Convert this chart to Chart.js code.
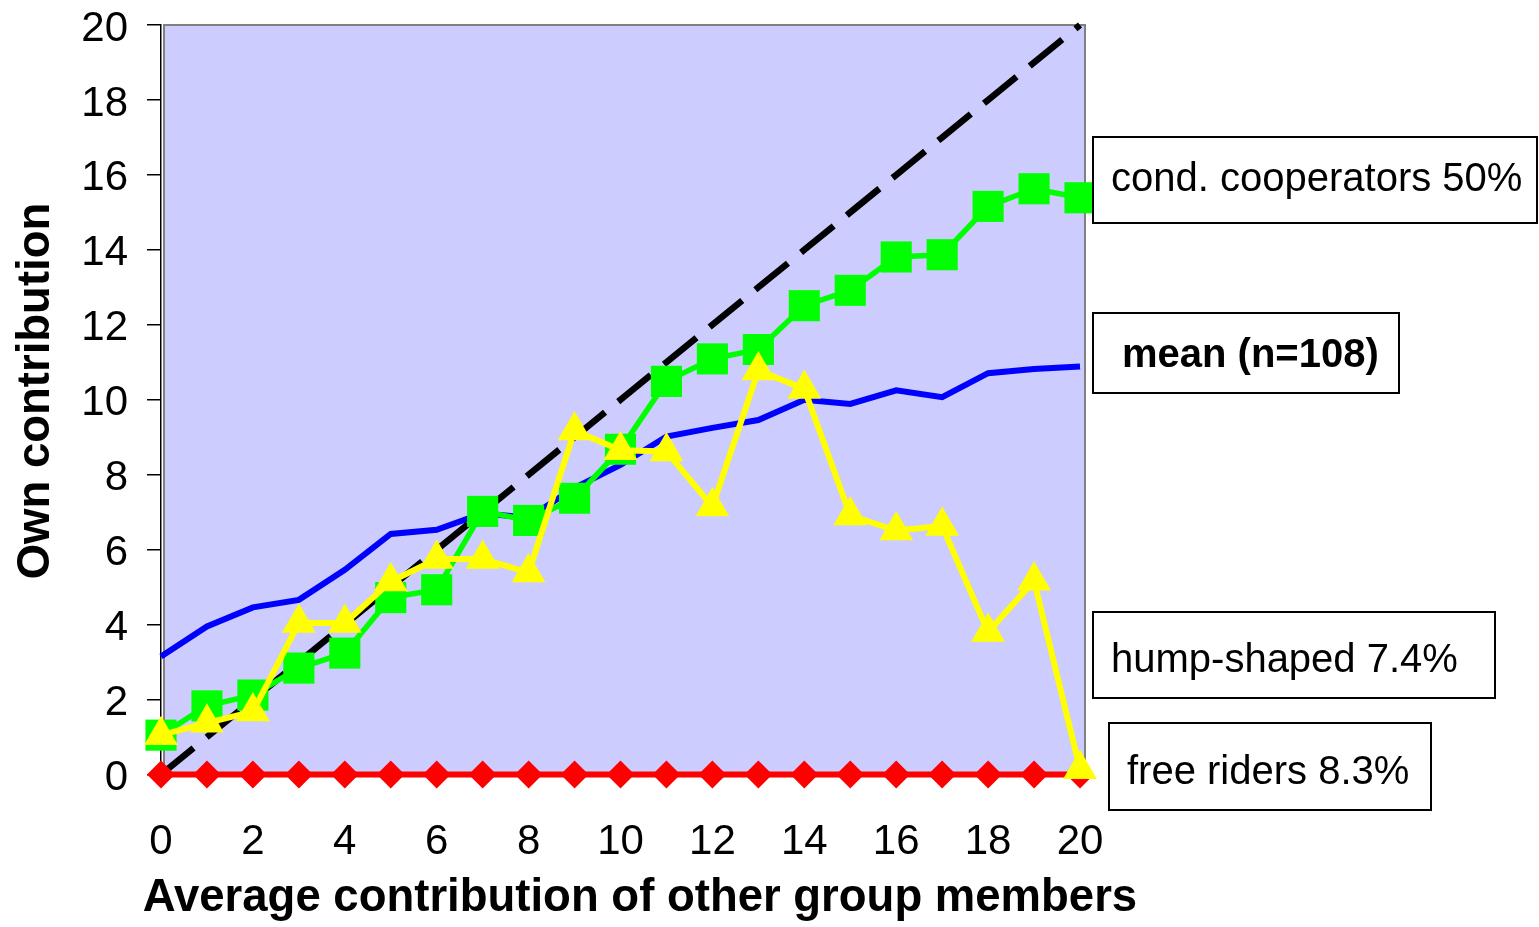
<!DOCTYPE html>
<html>
<head>
<meta charset="utf-8">
<title>Own contribution vs. others</title>
<script src="https://cdn.jsdelivr.net/npm/chart.js@4.4.1/dist/chart.umd.min.js"></script>
<style>
  html, body { margin: 0; padding: 0; background: #fff; }
  #wrap { width: 1539px; height: 927px; }
</style>
</head>
<body>
<div id="wrap"><canvas id="chart" width="1539" height="927"></canvas></div>
<script>
// ============================
// DATA
// ============================
const others = [0, 1, 2, 3, 4, 5, 6, 7, 8, 9, 10, 11, 12, 13, 14, 15, 16, 17, 18, 19, 20];
const meanAll = [3.15, 3.95, 4.46, 4.66, 5.46, 6.42, 6.53, 6.97, 6.85, 7.65, 8.26,
                 9.02, 9.25, 9.46, 10.0, 9.89, 10.25, 10.07, 10.71, 10.82, 10.89];
const condCoop = [1.05, 1.83, 2.12, 2.84, 3.24, 4.72, 4.93, 7.02, 6.78, 7.37, 8.68,
                  10.49, 11.09, 11.34, 12.51, 12.92, 13.81, 13.87, 15.16, 15.63, 15.39];
const humpShaped = [1.05, 1.38, 1.68, 4.04, 4.04, 5.15, 5.75, 5.75, 5.39, 9.18, 8.65,
                    8.62, 7.15, 10.78, 10.29, 6.91, 6.51, 6.63, 3.80, 5.17, 0.14];
const freeRiders = [0, 0, 0, 0, 0, 0, 0, 0, 0, 0, 0, 0, 0, 0, 0, 0, 0, 0, 0, 0, 0];
const diagonal = [0, 1, 2, 3, 4, 5, 6, 7, 8, 9, 10, 11, 12, 13, 14, 15, 16, 17, 18, 19, 20];
const typeLabels = ["cond. cooperators 50%", "mean (n=108)", "hump-shaped 7.4%", "free riders 8.3%"];
const xTitle = "Average contribution of other group members";
const yTitle = "Own contribution";

const pts = arr => arr.map((v, i) => ({ x: others[i], y: v }));
const FONT = "'Liberation Sans', Arial, sans-serif";

// ============================
// PLOT BACKGROUND
// ============================
const plotBg = {
  id: "plotBg",
  beforeDatasetsDraw(chart) {
    const { ctx, chartArea: a } = chart;
    ctx.save();
    ctx.fillStyle = "#CCCCFF";
    ctx.fillRect(a.left + 3, a.top, a.right - a.left + 2, a.bottom - a.top);
    ctx.strokeStyle = "#808080";
    ctx.lineWidth = 2;
    ctx.beginPath();
    ctx.moveTo(a.left + 3, a.bottom);
    ctx.lineTo(a.left + 3, a.top);
    ctx.lineTo(a.right + 5, a.top);
    ctx.lineTo(a.right + 5, a.bottom);
    ctx.stroke();
    ctx.restore();
  }
};

// ============================
// AXIS TITLES + LABEL BOXES
// ============================
const boxes = [
  { text: typeLabels[0], bold: false, x1: 1093, y1: 137, x2: 1537, y2: 223, tx: 1111, ty: 191 },
  { text: typeLabels[1], bold: true,  x1: 1093, y1: 313, x2: 1399, y2: 393, tx: 1122, ty: 367 },
  { text: typeLabels[2], bold: false, x1: 1093, y1: 612, x2: 1495, y2: 698, tx: 1111, ty: 672 },
  { text: typeLabels[3], bold: false, x1: 1109, y1: 723, x2: 1431, y2: 810, tx: 1127, ty: 784 }
];

const annotations = {
  id: "annotations",
  afterDraw(chart) {
    const { ctx } = chart;
    ctx.save();
    ctx.fillStyle = "#000";
    ctx.font = "bold 45.5px " + FONT;
    ctx.textAlign = "center";
    ctx.textBaseline = "alphabetic";
    ctx.fillText(xTitle, 640, 911);

    ctx.save();
    ctx.translate(49, 391);
    ctx.rotate(-Math.PI / 2);
    ctx.fillText(yTitle, 0, 0);
    ctx.restore();

    boxes.forEach(b => {
      ctx.fillStyle = "#fff";
      ctx.fillRect(b.x1, b.y1, b.x2 - b.x1, b.y2 - b.y1);
      ctx.strokeStyle = "#000";
      ctx.lineWidth = 2;
      ctx.strokeRect(b.x1, b.y1, b.x2 - b.x1, b.y2 - b.y1);
      ctx.fillStyle = "#000";
      ctx.textAlign = "left";
      ctx.font = (b.bold ? "bold " : "") + "40px " + FONT;
      ctx.fillText(b.text, b.tx, b.ty);
    });
    ctx.restore();
  }
};

// ============================
// CHART
// ============================
const ctx = document.getElementById("chart").getContext("2d");
new Chart(ctx, {
  type: "line",
  data: {
    datasets: [
      {
        label: typeLabels[2],
        data: pts(humpShaped),
        borderColor: "#FFFF00",
        backgroundColor: "#FFFF00",
        borderWidth: 6,
        pointStyle: "triangle",
        pointRadius: 19.5,
        pointBorderWidth: 0,
        clip: false
      },
      {
        label: typeLabels[0],
        data: pts(condCoop),
        borderColor: "#00FF00",
        backgroundColor: "#00FF00",
        borderWidth: 5.5,
        pointStyle: "rect",
        pointRadius: 22,
        pointBorderWidth: 0,
        clip: false
      },
      {
        label: typeLabels[3],
        data: pts(freeRiders),
        borderColor: "#FF0000",
        backgroundColor: "#FF0000",
        borderWidth: 6,
        pointStyle: "rectRot",
        pointRadius: 14,
        pointBorderWidth: 0,
        clip: false
      },
      {
        label: "own = others",
        data: pts(diagonal),
        borderColor: "#000",
        borderWidth: 6.5,
        borderDash: [42, 17],
        pointRadius: 0,
        clip: false
      },
      {
        label: typeLabels[1],
        data: pts(meanAll),
        borderColor: "#0000FF",
        borderWidth: 6,
        pointRadius: 0,
        clip: false
      }
    ]
  },
  options: {
    responsive: false,
    animation: false,
    devicePixelRatio: 1,
    layout: { padding: { left: 0, top: 25, right: 459, bottom: 0 } },
    plugins: {
      legend: { display: false },
      tooltip: { enabled: false }
    },
    elements: { line: { tension: 0 } },
    scales: {
      x: {
        type: "linear",
        min: 0,
        max: 20,
        grid: { display: false, drawTicks: false },
        border: { display: false },
        ticks: {
          stepSize: 2,
          color: "#000",
          padding: 43,
          font: { family: FONT, size: 42 }
        },
        afterFit: scale => {
          scale.height = 152.5;
          scale.paddingLeft = 0;
          scale.paddingRight = 0;
        }
      },
      y: {
        type: "linear",
        min: 0,
        max: 20,
        grid: {
          drawOnChartArea: false,
          drawTicks: true,
          tickLength: 14,
          color: "#000",
          lineWidth: 1.5
        },
        border: { display: true, color: "#000", width: 1.5 },
        ticks: {
          stepSize: 2,
          color: "#000",
          padding: 19,
          labelOffset: 4,
          font: { family: FONT, size: 42 }
        },
        afterFit: scale => {
          scale.width = 161;
          scale.paddingTop = 0;
          scale.paddingBottom = 0;
        }
      }
    }
  },
  plugins: [plotBg, annotations]
});
</script>
</body>
</html>
